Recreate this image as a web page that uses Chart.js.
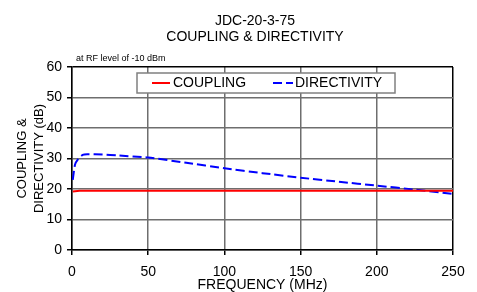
<!DOCTYPE html>
<html>
<head>
<meta charset="utf-8">
<script src="https://cdn.jsdelivr.net/npm/chart.js@4.4.1/dist/chart.umd.min.js"></script>
<style>
  html, body { margin: 0; padding: 0; background: #fff; }
  #wrap { width: 477px; height: 292px; }
</style>
</head>
<body>
<div id="wrap"><canvas id="chart" width="477" height="292"></canvas></div>
<script>
// values
var couplingFreq = [0.5, 5, 50, 100, 150, 200, 250];
var couplingDb = [19.2, 19.4, 19.4, 19.4, 19.4, 19.4, 19.4];

var directivityFreq = [0.5, 2, 4, 7, 10, 20, 30, 50, 75, 100, 125, 150, 175, 200, 225, 250];
var directivityDb = [23, 28, 29.8, 31.2, 31.4, 31.3, 31, 30.3, 28.6, 26.8, 25.2, 23.7, 22.4, 21.1, 19.8, 18.4];

var titleLines = ['JDC-20-3-75', 'COUPLING & DIRECTIVITY'];
var noteText = 'at RF level of -10 dBm';

const FONT = "'Liberation Sans', Arial, sans-serif";

function toPoints(xs, ys) {
  return xs.map((x, i) => ({ x: x, y: ys[i] }));
}

// titles, note and the boxed legend inside the plot
const textPlugin = {
  id: 'textPlugin',
  afterDraw(chart) {
    const ctx = chart.ctx;
    ctx.save();
    ctx.fillStyle = '#000';
    ctx.textAlign = 'center';
    ctx.textBaseline = 'middle';
    ctx.font = '14px ' + FONT;
    ctx.fillText(titleLines[0], 255, 21);
    ctx.fillText(titleLines[1], 255, 37.5);

    ctx.textAlign = 'left';
    ctx.font = '9px ' + FONT;
    ctx.fillText(noteText, 76, 59);

    // legend box
    ctx.fillStyle = '#fff';
    ctx.fillRect(137, 73, 258, 20);
    ctx.strokeStyle = '#808080';
    ctx.lineWidth = 1.5;
    ctx.strokeRect(137, 73, 258, 20);

    const ds = chart.data.datasets;
    ctx.lineWidth = 2;
    ctx.strokeStyle = ds[0].borderColor;
    ctx.beginPath();
    ctx.moveTo(152, 83);
    ctx.lineTo(170, 83);
    ctx.stroke();

    ctx.strokeStyle = ds[1].borderColor;
    ctx.setLineDash(ds[1].borderDash);
    ctx.beginPath();
    ctx.moveTo(273, 83);
    ctx.lineTo(293, 83);
    ctx.stroke();
    ctx.setLineDash([]);

    ctx.fillStyle = '#000';
    ctx.font = '14px ' + FONT;
    ctx.fillText(ds[0].label, 173, 83.5);
    ctx.fillText(ds[1].label, 295, 83.5);
    ctx.restore();
  }
};

const ctx = document.getElementById('chart').getContext('2d');
new Chart(ctx, {
  type: 'line',
  data: {
    datasets: [{
      label: 'COUPLING',
      data: toPoints(couplingFreq, couplingDb),
      borderColor: '#ff0000',
      borderWidth: 2,
      pointRadius: 0,
      tension: 0
    }, {
      label: 'DIRECTIVITY',
      data: toPoints(directivityFreq, directivityDb),
      borderColor: '#0000ff',
      borderWidth: 2,
      borderDash: [9, 4],
      pointRadius: 0,
      tension: 0.2
    }]
  },
  options: {
    responsive: false,
    animation: false,
    layout: { padding: { top: 67, right: 24, left: 0, bottom: 0 } },
    plugins: {
      legend: { display: false },
      title: { display: false },
      tooltip: { enabled: false }
    },
    scales: {
      x: {
        type: 'linear',
        min: 0,
        max: 250,
        ticks: { stepSize: 50, color: '#000', padding: 9, font: { family: FONT, size: 14 }, maxRotation: 0 },
        grid: {
          color: (c) => c.tick && c.tick.value === 250 ? '#000' : '#6e6e6e',
          lineWidth: 1.5,
          tickLength: 5,
          tickColor: '#000'
        },
        border: { display: true, color: '#000', width: 1.5 },
        title: {
          display: true,
          text: 'FREQUENCY (MHz)',
          color: '#000',
          font: { family: FONT, size: 14, lineHeight: 1.0 },
          padding: { top: 0, bottom: 0 }
        },
        afterFit(scale) { scale.height = 42; }
      },
      y: {
        min: 0,
        max: 60,
        ticks: { stepSize: 10, color: '#000', padding: 5, font: { family: FONT, size: 14 } },
        grid: {
          color: (c) => c.tick && c.tick.value === 60 ? '#000' : '#6e6e6e',
          lineWidth: 1.5,
          tickLength: 5,
          tickColor: '#000'
        },
        border: { display: true, color: '#000', width: 1.5 },
        title: {
          display: true,
          text: ['COUPLING &', 'DIRECTIVITY (dB)'],
          color: '#000',
          font: { family: FONT, size: 13, lineHeight: 1.3 },
          padding: { top: 14, bottom: 0 }
        },
        afterFit(scale) { scale.width = 72; }
      }
    }
  },
  plugins: [textPlugin]
});
</script>
</body>
</html>
